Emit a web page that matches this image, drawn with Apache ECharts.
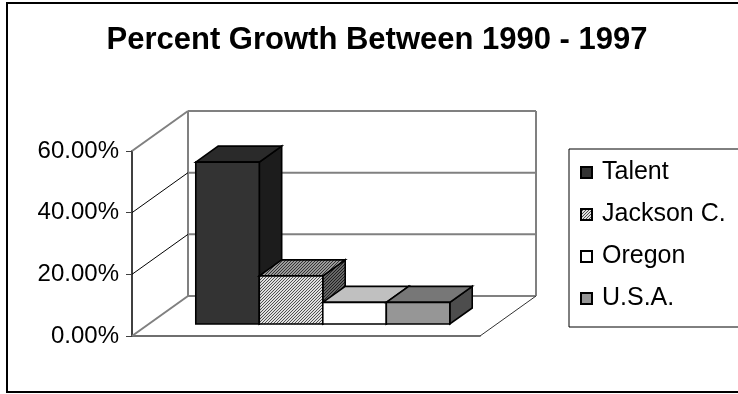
<!DOCTYPE html>
<html><head><meta charset="utf-8">
<script src="https://cdn.jsdelivr.net/npm/echarts@6/dist/echarts.min.js"></script>
<style>html,body{margin:0;padding:0;background:#fff}#c{width:738px;height:394px}</style>
</head><body><div id="c"></div>
<script>
// ---- data ----
const titleText = 'Percent Growth Between 1990 - 1997';
const periods = ['1990 - 1997'];
const seriesNames = ['Talent', 'Jackson C.', 'Oregon', 'U.S.A.'];
const growthPct = [52.5, 15.6, 7.0, 7.0];
const yTicks = [0, 20, 40, 60];

// ---- styling / layout constants ----
const FONT = "'Liberation Sans', Arial, sans-serif";
const DX = 56, DY = -40;          // depth of 3D box
const F0 = 0.3, F1 = 0.7;         // bar depth fractions
const BAR_FRAC = 0.1825;          // bar width as fraction of band

function hatch(bg, fg) {
  const c = document.createElement('canvas'); c.width = 3; c.height = 3;
  const g = c.getContext('2d');
  g.fillStyle = bg; g.fillRect(0, 0, 3, 3);
  g.fillStyle = fg;
  for (let i = 0; i < 3; i++) g.fillRect(i, 2 - i, 1, 1);
  return { image: c, repeat: 'repeat' };
}
const faces = [
  { front: '#333333', top: '#2a2a2a', side: '#1c1c1c' },
  { front: hatch('#e0e0e0', '#505050'), top: hatch('#9a9a9a', '#333333'), side: hatch('#666666', '#1e1e1e') },
  { front: '#ffffff', top: '#c0c0c0', side: '#808080' },
  { front: '#969696', top: '#777777', side: '#4d4d4d' }
];

const chart = echarts.init(document.getElementById('c'), null, { renderer: 'canvas' });

const frameSeries = {
  type: 'custom', name: '__frame', silent: true, z: 1,
  data: yTicks.map(v => [0, v]),
  renderItem: (params, api) => {
    const cs = params.coordSys;
    const y = api.coord([0, api.value(1)])[1];
    const L = cs.x, R = cs.x + cs.width;
    const v = api.value(1);
    const edge = (v === yTicks[0] || v === yTicks[yTicks.length - 1]);
    const children = [
      { type: 'line', shape: { x1: L + DX, y1: y + DY, x2: R + DX, y2: y + DY },
        style: { stroke: '#808080', lineWidth: 2 } },
      { type: 'line', shape: { x1: L, y1: y, x2: L + DX, y2: y + DY },
        style: edge ? { stroke: '#808080', lineWidth: 2 } : { stroke: '#000', lineWidth: 1 } }
    ];
    if (params.dataIndex === 0) {
      children.push(
        { type: 'line', shape: { x1: L + DX, y1: y + DY, x2: L + DX, y2: cs.y + DY },
          style: { stroke: '#808080', lineWidth: 2 } },
        { type: 'line', shape: { x1: R + DX, y1: y + DY, x2: R + DX, y2: cs.y + DY },
          style: { stroke: '#808080', lineWidth: 2 } },
        { type: 'line', shape: { x1: R, y1: y, x2: R + DX, y2: y + DY },
          style: { stroke: '#333', lineWidth: 1 } }
      );
    }
    return { type: 'group', children };
  }
};

const barSeries = seriesNames.map((name, i) => ({
  type: 'custom', name, z: 2 + i,
  itemStyle: { color: faces[i].front, borderColor: '#000', borderWidth: 1 },
  data: [[0, growthPct[i]]],
  renderItem: (params, api) => {
    const base = api.coord([api.value(0), 0]);
    const top = api.coord([api.value(0), api.value(1)]);
    const band = api.size([1, 0])[0];
    const w = band * BAR_FRAC;
    const x0 = base[0] - 2 * w + i * w, x1 = x0 + w;
    const fx = DX * F0, fy = DY * F0, bx = DX * F1, by = DY * F1;
    const st = (fill) => ({ fill, stroke: '#000', lineWidth: 1.6, lineJoin: 'miter' });
    return {
      type: 'group', children: [
        { type: 'polygon', shape: { points: [[x1 + fx, top[1] + fy], [x1 + bx, top[1] + by], [x1 + bx, base[1] + by], [x1 + fx, base[1] + fy]] },
          style: st(faces[i].side) },
        { type: 'polygon', shape: { points: [[x0 + fx, top[1] + fy], [x1 + fx, top[1] + fy], [x1 + bx, top[1] + by], [x0 + bx, top[1] + by]] },
          style: st(faces[i].top) },
        { type: 'rect', shape: { x: x0 + fx, y: top[1] + fy, width: w, height: base[1] - top[1] },
          style: st(faces[i].front) }
      ]
    };
  }
}));

chart.setOption({
  animation: false,
  backgroundColor: '#fff',
  title: {
    text: titleText, left: 377, top: 25, textAlign: 'center', padding: 0,
    textStyle: { fontFamily: FONT, fontSize: 31, fontWeight: 'bold', color: '#000' }
  },
  legend: {
    data: seriesNames, orient: 'vertical', left: 569, top: 149,
    icon: 'rect', itemWidth: 11, itemHeight: 11, itemGap: 17,
    borderColor: '#000', borderWidth: 1, padding: [11, 40, 16, 11],
    selectedMode: false,
    textStyle: { fontFamily: FONT, fontSize: 25, color: '#000', padding: [0, 0, 0, 5] }
  },
  grid: { left: 132, right: 258, top: 151, bottom: 58, containLabel: false },
  xAxis: {
    type: 'category', data: periods,
    axisLine: { lineStyle: { color: '#404040', width: 1.5 } },
    axisTick: { show: false }, axisLabel: { show: false }, splitLine: { show: false }
  },
  yAxis: {
    type: 'value', min: 0, max: 60, interval: 20,
    axisLine: { show: true, lineStyle: { color: '#404040', width: 2 } },
    axisTick: { show: true, length: 6, lineStyle: { color: '#404040', width: 1 } },
    splitLine: { show: false },
    axisLabel: { formatter: v => v.toFixed(2) + '%', fontFamily: FONT, fontSize: 24, color: '#000', margin: 13 }
  },
  graphic: [{
    type: 'rect', z: -10, silent: true,
    shape: { x: 7, y: 3, width: 760, height: 389 },
    style: { fill: 'none', stroke: '#000', lineWidth: 2 }
  }],
  series: [frameSeries, ...barSeries]
});
</script>
</body></html>
